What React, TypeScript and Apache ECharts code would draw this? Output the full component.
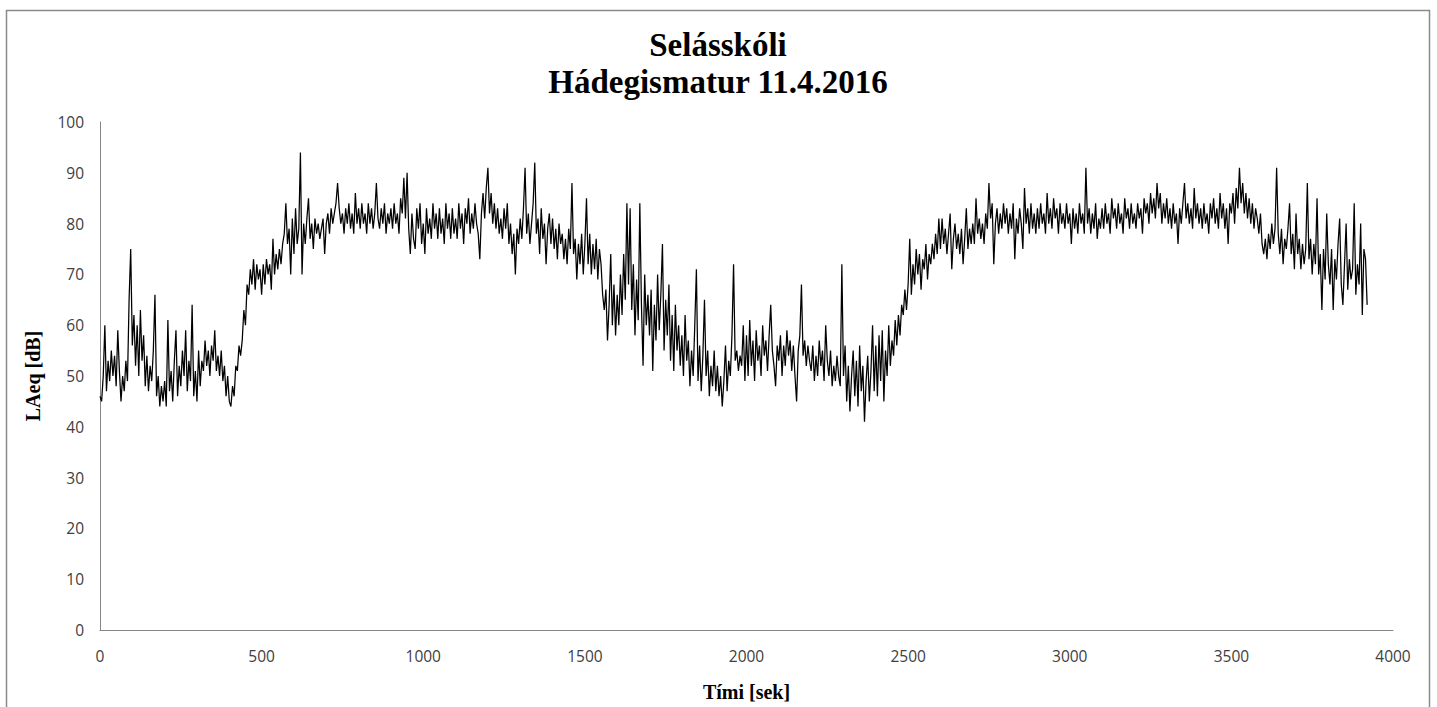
import React, { useEffect, useRef } from "react";
import * as echarts from "echarts";

const titleLines = ["Selásskóli", "Hádegismatur 11.4.2016"];
const xAxisName = "Tími [sek]";
const yAxisName = "LAeq [dB]";
const xTicks = [0, 500, 1000, 1500, 2000, 2500, 3000, 3500, 4000];
const yTicks = [0, 10, 20, 30, 40, 50, 60, 70, 80, 90, 100];
const sampleStartSec = 0;
const sampleStepSec = 5;

// LAeq readings, one every 5 seconds
const laeq: number[] = [
  46, 45, 50, 60, 47, 53, 49, 55, 50, 54, 48, 59, 51, 45, 50, 47, 53, 49, 65, 75,
  56, 62, 52, 60, 50, 63, 53, 58, 48, 54, 47, 52, 49, 55, 66, 46, 50, 44, 48, 45,
  49, 44, 61, 47, 51, 45, 53, 59, 46, 52, 48, 55, 50, 59, 47, 53, 49, 64, 46, 51,
  45, 55, 48, 53, 51, 57, 52, 55, 50, 56, 53, 59, 51, 54, 50, 55, 49, 52, 46, 50,
  45, 44, 48, 46, 52, 51, 56, 54, 57, 63, 60, 68, 66, 71, 68, 73, 67, 72, 69, 71,
  66, 72, 68, 73, 70, 72, 67, 77, 70, 74, 71, 75, 72, 76, 78, 84, 76, 79, 70, 81,
  74, 83, 76, 79, 94, 70, 80, 76, 81, 85, 77, 80, 75, 81, 78, 80, 77, 79, 81, 74,
  80, 82, 78, 83, 80, 82, 84, 88, 83, 80, 82, 78, 83, 80, 84, 79, 82, 78, 86, 80,
  83, 79, 84, 80, 82, 78, 84, 80, 83, 79, 82, 88, 81, 79, 83, 80, 84, 78, 82, 80,
  83, 79, 84, 80, 82, 78, 85, 82, 89, 81, 90, 79, 74, 82, 77, 75, 83, 79, 84, 76,
  80, 74, 83, 78, 81, 77, 84, 79, 82, 77, 83, 78, 81, 76, 84, 79, 82, 77, 83, 78,
  81, 77, 84, 79, 82, 76, 83, 80, 85, 78, 82, 79, 84, 80, 78, 73, 82, 86, 81, 87,
  91, 82, 86, 80, 84, 79, 83, 78, 81, 77, 83, 79, 84, 76, 80, 74, 78, 70, 79, 76,
  81, 77, 83, 91, 78, 82, 76, 80, 84, 92, 78, 81, 74, 83, 77, 80, 72, 79, 82, 76,
  81, 75, 79, 73, 80, 76, 78, 73, 77, 72, 79, 75, 88, 74, 77, 69, 76, 72, 78, 70,
  76, 85, 72, 78, 70, 76, 71, 77, 69, 75, 72, 66, 63, 67, 57, 64, 74, 60, 68, 58,
  66, 60, 70, 62, 74, 65, 84, 68, 83, 63, 72, 58, 69, 61, 84, 64, 52, 70, 60, 66,
  58, 67, 51, 64, 57, 70, 59, 66, 76, 55, 65, 58, 68, 53, 62, 51, 64, 55, 60, 52,
  58, 50, 62, 53, 57, 48, 55, 50, 60, 71, 49, 56, 47, 54, 65, 50, 55, 46, 52, 48,
  55, 47, 52, 46, 50, 44, 49, 56, 47, 53, 50, 58, 72, 53, 55, 51, 54, 52, 60, 49,
  58, 50, 61, 52, 57, 49, 59, 53, 56, 50, 60, 54, 57, 51, 58, 64, 55, 52, 48, 56,
  53, 58, 50, 56, 52, 59, 54, 57, 51, 56, 50, 45, 55, 58, 68, 54, 57, 52, 56, 53,
  51, 56, 49, 54, 50, 57, 52, 55, 49, 60, 53, 50, 55, 48, 52, 49, 54, 50, 48, 72,
  50, 56, 45, 52, 43, 50, 55, 46, 53, 44, 56, 47, 52, 41, 49, 54, 45, 51, 60, 47,
  56, 46, 58, 49, 59, 45, 55, 50, 60, 52, 57, 54, 61, 56, 62, 58, 64, 62, 67, 63,
  68, 77, 66, 72, 68, 75, 70, 74, 67, 73, 71, 76, 69, 74, 72, 76, 73, 78, 74, 81,
  75, 81, 76, 79, 74, 78, 82, 71, 77, 80, 75, 78, 74, 79, 72, 77, 83, 75, 79, 76,
  80, 76, 85, 78, 81, 77, 80, 76, 82, 79, 88, 81, 84, 72, 80, 83, 78, 82, 79, 84,
  80, 83, 78, 82, 79, 84, 73, 81, 78, 83, 80, 75, 87, 80, 83, 78, 84, 79, 82, 78,
  83, 79, 84, 80, 82, 78, 86, 80, 83, 79, 85, 81, 83, 78, 84, 80, 82, 79, 84, 80,
  82, 76, 83, 79, 82, 78, 84, 80, 82, 78, 91, 80, 83, 78, 82, 79, 84, 77, 81, 79,
  83, 79, 84, 80, 82, 78, 85, 81, 83, 79, 84, 80, 82, 78, 85, 81, 83, 79, 84, 80,
  82, 79, 84, 81, 83, 78, 85, 82, 84, 80, 86, 82, 85, 81, 88, 83, 86, 80, 84, 81,
  85, 80, 83, 79, 84, 80, 82, 76, 83, 80, 84, 88, 81, 84, 80, 83, 79, 87, 81, 84,
  80, 83, 79, 84, 80, 82, 78, 84, 81, 85, 80, 83, 79, 86, 81, 84, 79, 83, 76, 84,
  82, 86, 80, 87, 83, 91, 84, 88, 82, 86, 81, 85, 80, 84, 79, 83, 81, 78, 82, 76,
  74, 77, 73, 78, 75, 80, 76, 79, 91, 78, 74, 79, 72, 77, 75, 79, 84, 74, 78, 71,
  82, 74, 77, 71, 76, 72, 75, 88, 73, 77, 70, 76, 72, 85, 70, 74, 63, 75, 69, 82,
  72, 68, 75, 63, 73, 69, 76, 81, 68, 64, 72, 80, 67, 73, 69, 71, 84, 66, 72, 68,
  80, 62, 75, 73, 64,
];

const seriesData = laeq.map((v, i) => [sampleStartSec + i * sampleStepSec, v]);

const labelFont = "'Open Sans', 'Noto Sans', sans-serif";
const serifFont = "'Liberation Serif', 'DejaVu Serif', serif";

export default function App() {
  const ref = useRef<HTMLDivElement>(null);
  useEffect(() => {
    if (!ref.current) return;
    const chart = echarts.init(ref.current, undefined, { renderer: "svg" });
    chart.setOption({
      animation: false,
      backgroundColor: "#ffffff",
      graphic: [
        {
          type: "rect",
          shape: { x: 6.5, y: 10.5, width: 1423, height: 720 },
          style: { fill: "none", stroke: "#8a8a8a", lineWidth: 1.5 },
          silent: true,
        },
        {
          type: "text",
          x: 718,
          y: 45,
          style: {
            text: titleLines[0],
            font: `bold 33px ${serifFont}`,
            fill: "#000",
            align: "center",
            verticalAlign: "middle",
          },
        },
        {
          type: "text",
          x: 718,
          y: 82,
          style: {
            text: titleLines[1],
            font: `bold 33px ${serifFont}`,
            fill: "#000",
            align: "center",
            verticalAlign: "middle",
          },
        },
      ],
      grid: { left: 100, top: 122, right: 44, bottom: 76, containLabel: false },
      xAxis: {
        type: "value",
        min: xTicks[0],
        max: xTicks[xTicks.length - 1],
        interval: xTicks[1] - xTicks[0],
        name: xAxisName,
        nameLocation: "middle",
        nameGap: 52,
        nameTextStyle: { fontFamily: serifFont, fontWeight: "bold", fontSize: 20, color: "#000" },
        axisLine: { show: true, lineStyle: { color: "#868686", width: 1 } },
        axisTick: { show: false },
        splitLine: { show: false },
        axisLabel: {
          fontFamily: labelFont,
          fontSize: 15.5,
          color: "#404040",
          margin: 18,
          formatter: (v: number) => String(v),
        },
      },
      yAxis: {
        type: "value",
        min: yTicks[0],
        max: yTicks[yTicks.length - 1],
        interval: yTicks[1] - yTicks[0],
        name: yAxisName,
        nameLocation: "middle",
        nameGap: 57,
        nameRotate: 90,
        nameTextStyle: { fontFamily: serifFont, fontWeight: "bold", fontSize: 20, color: "#000" },
        axisLine: { show: true, lineStyle: { color: "#868686", width: 1 } },
        axisTick: { show: false },
        splitLine: { show: false },
        axisLabel: {
          fontFamily: labelFont,
          fontSize: 15.5,
          color: "#404040",
          margin: 16,
          formatter: (v: number) => String(v),
        },
      },
      series: [
        {
          type: "line",
          data: seriesData,
          showSymbol: false,
          symbol: "none",
          lineStyle: { color: "#000000", width: 1.25 },
          silent: true,
        },
      ],
    });
    return () => chart.dispose();
  }, []);
  return (
    <div
      ref={ref}
      style={{ position: "fixed", left: 0, top: 0, width: 1437, height: 707, background: "#fff" }}
    />
  );
}
